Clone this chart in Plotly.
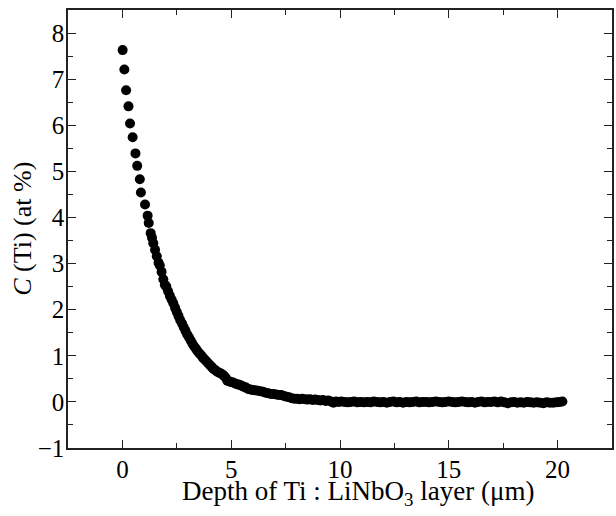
import plotly.graph_objects as go

# Depth (um) and Ti concentration (at %)
depth = [
    0.01, 0.09, 0.17, 0.28, 0.35, 0.47, 0.60, 0.68, 0.80, 0.85, 1.04, 1.16, 1.21,
    1.30, 1.36, 1.42, 1.50, 1.58, 1.66, 1.72, 1.80, 1.88, 1.95, 2.02, 2.10, 2.18,
    2.26, 2.34, 2.42, 2.50, 2.58, 2.66, 2.74, 2.82, 2.90, 2.98, 3.06, 3.14, 3.22,
    3.30, 3.38, 3.46, 3.54, 3.62, 3.70, 3.78, 3.86, 3.94, 4.02, 4.10, 4.18, 4.26,
    4.34, 4.42, 4.50, 4.58, 4.66, 4.74, 4.82, 4.90, 4.98, 5.08, 5.18, 5.28, 5.38,
    5.48, 5.58, 5.68, 5.78, 5.88, 5.98, 6.10, 6.22, 6.34, 6.46, 6.58, 6.70, 6.82,
    6.94, 7.06, 7.18, 7.30, 7.42, 7.54, 7.66, 7.78, 7.90, 8.02, 8.14, 8.26, 8.38,
    8.50, 8.62, 8.74, 8.86, 8.98, 9.10, 9.22, 9.34, 9.46, 9.58, 9.70, 9.82, 9.94,
    10.06, 10.20, 10.35, 10.50, 10.65, 10.80, 10.95, 11.10, 11.25, 11.40, 11.55,
    11.70, 11.85, 12.00, 12.15, 12.30, 12.45, 12.60, 12.75, 12.90, 13.05, 13.20,
    13.35, 13.50, 13.65, 13.80, 13.95, 14.10, 14.25, 14.40, 14.55, 14.70, 14.85,
    15.00, 15.15, 15.30, 15.45, 15.60, 15.75, 15.90, 16.05, 16.20, 16.35, 16.50,
    16.65, 16.80, 16.95, 17.10, 17.25, 17.40, 17.55, 17.70, 17.85, 18.00, 18.15,
    18.30, 18.45, 18.60, 18.75, 18.90, 19.05, 19.20, 19.35, 19.50, 19.65, 19.80,
    19.95, 20.10, 20.22,
]
conc = [
    7.63, 7.21, 6.76, 6.41, 6.04, 5.74, 5.39, 5.12, 4.83, 4.54, 4.28, 4.04, 3.88,
    3.66, 3.56, 3.44, 3.30, 3.16, 3.02, 2.96, 2.82, 2.66, 2.54, 2.50, 2.40, 2.30,
    2.22, 2.14, 2.04, 1.95, 1.86, 1.77, 1.70, 1.62, 1.54, 1.46, 1.40, 1.33, 1.26,
    1.20, 1.15, 1.10, 1.05, 1.01, 0.96, 0.92, 0.88, 0.84, 0.80, 0.76, 0.72, 0.69,
    0.66, 0.64, 0.62, 0.60, 0.57, 0.53, 0.46, 0.45, 0.43, 0.42, 0.40, 0.38, 0.37,
    0.35, 0.33, 0.31, 0.28, 0.27, 0.26, 0.25, 0.24, 0.23, 0.22, 0.20, 0.19, 0.17,
    0.17, 0.16, 0.15, 0.15, 0.13, 0.11, 0.10, 0.08, 0.07, 0.07, 0.06, 0.07, 0.06,
    0.05, 0.06, 0.04, 0.05, 0.04, 0.03, 0.04, 0.02, 0.03, 0.01, -0.02, 0.01, 0.00,
    0.01, 0.00, -0.01, 0.00, 0.01, -0.01, 0.00, -0.01, 0.00, -0.01, 0.01,
    0.00, -0.01, 0.00, -0.02, 0.00, 0.01, -0.01, 0.00, -0.02, 0.00, -0.01,
    0.00, 0.01, -0.01, 0.00, 0.00, -0.01, 0.00, 0.01, 0.00, -0.01, 0.00,
    0.01, 0.00, -0.01, 0.00, 0.01, 0.00, -0.01, 0.00, -0.02, 0.00, 0.01,
    -0.01, 0.00, 0.00, 0.01, -0.01, 0.01, -0.01, -0.03, -0.01, 0.00, -0.02,
    -0.01, -0.02, 0.00, -0.01, -0.02, -0.01, -0.02, -0.03, -0.01, -0.02, -0.02,
    -0.01, 0.00, 0.01,
]

x_ticks = [0, 5, 10, 15, 20]
y_ticks = [-1, 0, 1, 2, 3, 4, 5, 6, 7, 8]
x_title = "Depth of Ti : LiNbO<sub>3</sub> layer (\u03bcm)"
y_title = "<i>C</i> (Ti) (at %)"

FONT = "Liberation Serif"
LINE = "#222222"

fig = go.Figure(
    go.Scatter(
        x=depth, y=conc, mode="markers",
        marker=dict(size=10, color="black", line=dict(width=0)),
        showlegend=False,
    )
)

axis_common = dict(
    showline=True, linewidth=1.5, linecolor=LINE, mirror="allticks",
    ticks="inside", ticklen=8, tickwidth=1.3, tickcolor=LINE,
    showgrid=False, zeroline=False,
    tickfont=dict(family=FONT, size=25, color="black"),
)

fig.update_layout(
    width=616, height=516,
    margin=dict(l=68, r=4, t=10, b=68, autoexpand=False),
    font=dict(family=FONT, size=25, color="black"),
    paper_bgcolor="white", plot_bgcolor="white",
    xaxis=dict(
        range=[-2.5, 22.5], tickvals=x_ticks, ticktext=[str(v) for v in x_ticks],
        minor=dict(dtick=2.5, tick0=0, ticks="inside", ticklen=5, tickwidth=1.3, tickcolor=LINE),
        ticklabelstandoff=-2, automargin=False,
        **axis_common,
    ),
    yaxis=dict(
        range=[-1, 8.5], tickvals=y_ticks, ticktext=[("\u2212" + str(-v)) if v < 0 else str(v) for v in y_ticks],
        minor=dict(dtick=0.5, tick0=0, ticks="inside", ticklen=5, tickwidth=1.3, tickcolor=LINE),
        ticklabelstandoff=-3, automargin=False,
        **axis_common,
    ),
    annotations=[
        dict(text=x_title, xref="paper", yref="paper", x=0.5326, y=-0.102,
             xanchor="center", yanchor="middle", showarrow=False,
             font=dict(family=FONT, size=27, color="black")),
        dict(text=y_title, xref="paper", yref="paper", x=-0.085, y=0.5,
             xanchor="center", yanchor="middle", showarrow=False, textangle=-90,
             font=dict(family=FONT, size=26, color="black")),
    ],
)

fig.write_html(
    "out.html",
    config={"displayModeBar": False},
    post_script="document.body.style.margin='0';document.body.style.padding='0';",
)
